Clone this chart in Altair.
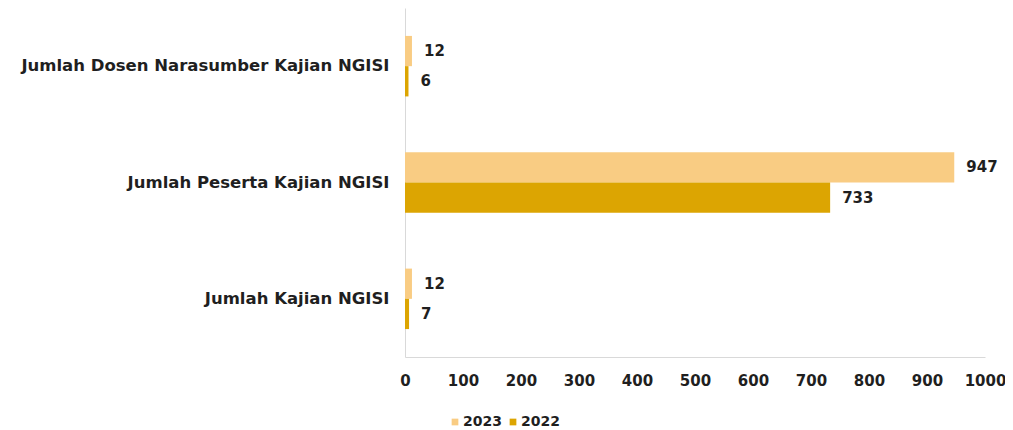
import altair as alt
import pandas as pd

categories = ["Jumlah Dosen Narasumber Kajian NGISI", "Jumlah Peserta Kajian NGISI", "Jumlah Kajian NGISI"]
series = ["2023", "2022"]
values_2023 = [12, 947, 12]
values_2022 = [6, 733, 7]
x_ticks = [0, 100, 200, 300, 400, 500, 600, 700, 800, 900, 1000]
colors = ["#F9CC83", "#DCA502"]

rows = []
for c, v23, v22 in zip(categories, values_2023, values_2022):
    rows.append({"cat": c, "year": "2023", "val": v23})
    rows.append({"cat": c, "year": "2022", "val": v22})
df = pd.DataFrame(rows)

FONT = "DejaVu Sans"
TXT = "#1f1f1f"

base = alt.Chart(df).encode(
    y=alt.Y("cat:N", sort=categories,
            scale=alt.Scale(paddingInner=0.48, paddingOuter=0.24),
            axis=alt.Axis(title=None, ticks=False, domainColor="#d9d9d9",
                          labelFont=FONT, labelFontSize=16.5, labelFontWeight="bold",
                          labelColor=TXT, labelPadding=16, labelLimit=500)),
    yOffset=alt.YOffset("year:N", sort=series),
)

bars = base.mark_bar().encode(
    x=alt.X("val:Q", scale=alt.Scale(domain=[0, 1000]),
            axis=alt.Axis(values=x_ticks, format="d", title=None, grid=False, ticks=False,
                          labelFlush=False, labelOverlap=False,
                          domainColor="#d9d9d9", labelFont=FONT, labelFontSize=15,
                          labelFontWeight="bold", labelColor=TXT, labelPadding=16)),
    color=alt.Color("year:N", sort=series,
                    scale=alt.Scale(domain=series, range=colors),
                    legend=alt.Legend(title=None, orient="none", direction="horizontal",
                                      legendX=43, legendY=407, symbolType="square",
                                      symbolSize=45, labelFont=FONT, labelFontSize=14,
                                      labelFontWeight="bold", labelColor=TXT,
                                      labelOffset=1, columnPadding=4, symbolStrokeWidth=0)),
)

labels = base.mark_text(align="left", baseline="middle", dx=12, font=FONT,
                        fontSize=15, fontWeight="bold", color=TXT).encode(
    x="val:Q",
    text="val:Q",
)

chart = (bars + labels).properties(
    width=580, height=349,
    padding={"left": 397, "top": 0, "right": 20, "bottom": 72},
    autosize=alt.AutoSizeParams(type="none"),
).configure(background="white").configure_view(strokeWidth=0)

chart.save("out.html", embed_options={"renderer": "svg", "actions": False})
